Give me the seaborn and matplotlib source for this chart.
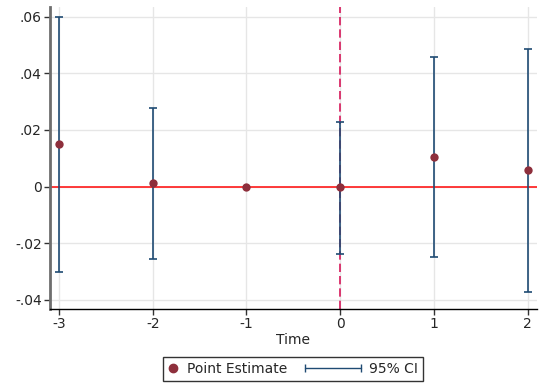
import numpy as np
import pandas as pd
import seaborn as sns
import matplotlib
matplotlib.use("Agg")
import matplotlib.pyplot as plt
from matplotlib.lines import Line2D
from matplotlib.legend_handler import HandlerBase
from matplotlib.ticker import FuncFormatter

# event-study estimates
time = [-3, -2, -1, 0, 1, 2]
time_labels = ["-3", "-2", "-1", "0", "1", "2"]
estimate = [0.0150, 0.0012, 0.0000, -0.0003, 0.0106, 0.0057]
ci_low = [-0.0300, -0.0257, np.nan, -0.0238, -0.0248, -0.0372]
ci_high = [0.0598, 0.0277, np.nan, 0.0228, 0.0458, 0.0486]
y_ticks = [-0.04, -0.02, 0.0, 0.02, 0.04, 0.06]

df = pd.DataFrame({"time": time, "estimate": estimate, "lo": ci_low, "hi": ci_high})

POINT = "#8e2f3c"
CI = "#1f4b73"

sns.set_style("whitegrid", {"grid.color": "#e6e6e6"})
plt.rcParams["font.family"] = ["DejaVu Sans"]

fig = plt.figure(figsize=(5.4, 3.86), dpi=100)
ax = fig.add_axes([50 / 540, 77 / 386, 487 / 540, 302 / 386])

ax.axvline(0, color="#d6185a", lw=1.2, ls=(0, (5, 2.4)), zorder=2)
ax.axhline(0, color="#ff1a1a", lw=1.2, zorder=2)

ax.errorbar(df["time"], df["estimate"],
            yerr=[df["estimate"] - df["lo"], df["hi"] - df["estimate"]],
            fmt="none", ecolor=CI, elinewidth=1.2, capsize=3, capthick=1.2, zorder=3)
sns.scatterplot(data=df, x="time", y="estimate", color=POINT, s=36,
                edgecolor=POINT, linewidth=0, ax=ax, zorder=4)

ax.set_xlim(-3.096, 2.1)
ax.set_ylim(-0.0432, 0.0634)
ax.set_xticks(time)
ax.set_xticklabels(time_labels)
ax.set_yticks(y_ticks)


def short_fmt(v, pos):
    if abs(v) < 1e-12:
        return "0"
    s = f"{v:.2f}"
    return s.replace("0.", ".")


ax.yaxis.set_major_formatter(FuncFormatter(short_fmt))
ax.tick_params(axis="both", labelsize=10, length=4, width=1, color="#333333",
               left=True, bottom=True, pad=2)
ax.set_xlabel("Time", fontsize=10, labelpad=1)
ax.set_ylabel("")

for side in ["top", "right"]:
    ax.spines[side].set_visible(False)
ax.spines["left"].set_color("#6e6e6e")
ax.spines["left"].set_linewidth(2)
ax.spines["bottom"].set_color("black")
ax.spines["bottom"].set_linewidth(1)
ax.grid(True, color="#e6e6e6", lw=1)


class WideCIHandler(HandlerBase):
    # horizontal capped bar that reaches left past the handle box
    def create_artists(self, legend, orig_handle, xdescent, ydescent,
                       width, height, fontsize, trans):
        y = height / 2 - ydescent
        x0 = -xdescent - 32
        x1 = -xdescent + width
        line = Line2D([x0, x1], [y, y], color=CI, lw=1, transform=trans)
        caps = Line2D([x0, x1], [y, y], ls="none", marker="|", ms=6,
                      mew=1, color=CI, transform=trans)
        return [line, caps]


pt_handle = Line2D([], [], ls="none", marker="o", ms=6, color=POINT)
ci_handle = Line2D([], [], color=CI)
leg = fig.legend([pt_handle, ci_handle], ["Point Estimate", "95% CI"],
                 loc="center", bbox_to_anchor=(293 / 540, 1 - 369 / 386),
                 ncol=2, fontsize=10, frameon=True, fancybox=False,
                 handlelength=0.8, handletextpad=0.6, columnspacing=4.5,
                 borderpad=0.35, handler_map={ci_handle: WideCIHandler()})
leg.get_frame().set_edgecolor("black")
leg.get_frame().set_linewidth(1)

fig.savefig("out.png", dpi=100)
